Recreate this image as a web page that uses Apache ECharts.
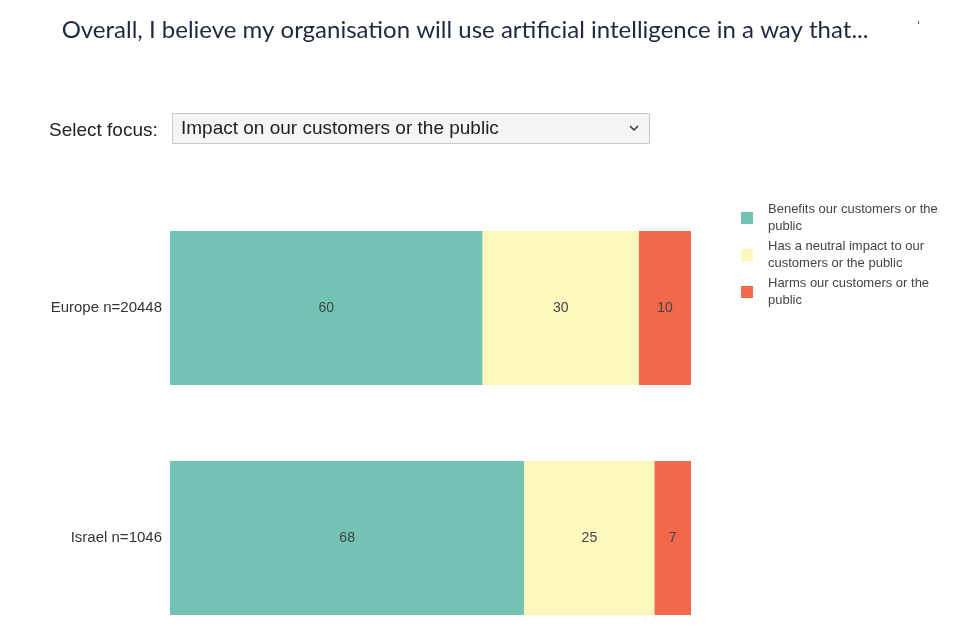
<!DOCTYPE html>
<html><head><meta charset="utf-8">
<script src="https://cdn.jsdelivr.net/npm/echarts@6/dist/echarts.min.js"></script>
<style>html,body{margin:0;padding:0;background:#fff}#c{width:972px;height:627px}</style>
</head><body><div id="c"></div>
<script>
const categories = ['Europe n=20448', 'Israel n=1046'];
const seriesNames = ['Benefits our customers or the public', 'Has a neutral impact to our customers or the public', 'Harms our customers or the public'];
const legendLabels = ['Benefits our customers or the\npublic', 'Has a neutral impact to our\ncustomers or the public', 'Harms our customers or the\npublic'];
const benefits = [60, 68];
const neutral = [30, 25];
const harms = [10, 7];
const colors = ['#72c3b4', '#fcf7bc', '#f2684b'];
const titleText = 'Overall, I believe my organisation will use artificial intelligence in a way that...';
const selectLabel = 'Select focus:';
const selectValue = 'Impact on our customers or the public';

const SANS = 'Liberation Sans';
const chart = echarts.init(document.getElementById('c'));
const values = [benefits, neutral, harms];
chart.setOption({
  animation: false,
  title: {
    text: titleText, left: 460, textAlign: 'center', top: 13,
    textStyle: {fontFamily: 'Lato', fontSize: 24, fontWeight: 'normal', color: '#1e2940'}
  },
  legend: {
    orient: 'vertical', left: 741, top: 201, padding: 0, itemWidth: 12, itemHeight: 12, itemGap: 3,
    icon: 'rect',
    data: seriesNames,
    formatter: n => legendLabels[seriesNames.indexOf(n)],
    textStyle: {fontFamily: SANS, fontSize: 13, color: '#444', lineHeight: 17, padding: [0, 0, 0, 10]}
  },
  grid: {left: 170, width: 521, top: 308, height: 230},
  xAxis: {type: 'value', min: 0, max: 100, show: false},
  yAxis: {
    type: 'category', data: categories, inverse: true, boundaryGap: false,
    axisLine: {show: false}, axisTick: {show: false}, splitLine: {show: false},
    axisLabel: {fontFamily: SANS, fontSize: 15, color: '#333', margin: 8}
  },
  series: seriesNames.map((n, i) => ({
    name: n, type: 'bar', stack: 's', data: values[i], barWidth: 154, clip: false,
    itemStyle: {color: colors[i]},
    label: {show: true, position: 'inside', fontFamily: SANS, fontSize: 14, color: '#444'}
  })),
  graphic: [
    {type: 'text', left: 49, top: 121, style: {text: selectLabel, font: '19px "Liberation Sans"', fill: '#222'}},
    {type: 'rect', shape: {x: 172.5, y: 113.5, width: 477, height: 30}, style: {fill: '#f5f5f5', stroke: '#c8c8c8', lineWidth: 1}},
    {type: 'text', left: 181, top: 119, style: {text: selectValue, font: '19px "Liberation Sans"', fill: '#222'}},
    {type: 'polyline', shape: {points: [[630, 126], [634, 130], [638, 126]]}, style: {stroke: '#333', lineWidth: 1.5, fill: null}},
    {type: 'rect', shape: {x: 918, y: 21, width: 1, height: 3}, style: {fill: '#e8344a'}}
  ]
});
</script></body></html>
